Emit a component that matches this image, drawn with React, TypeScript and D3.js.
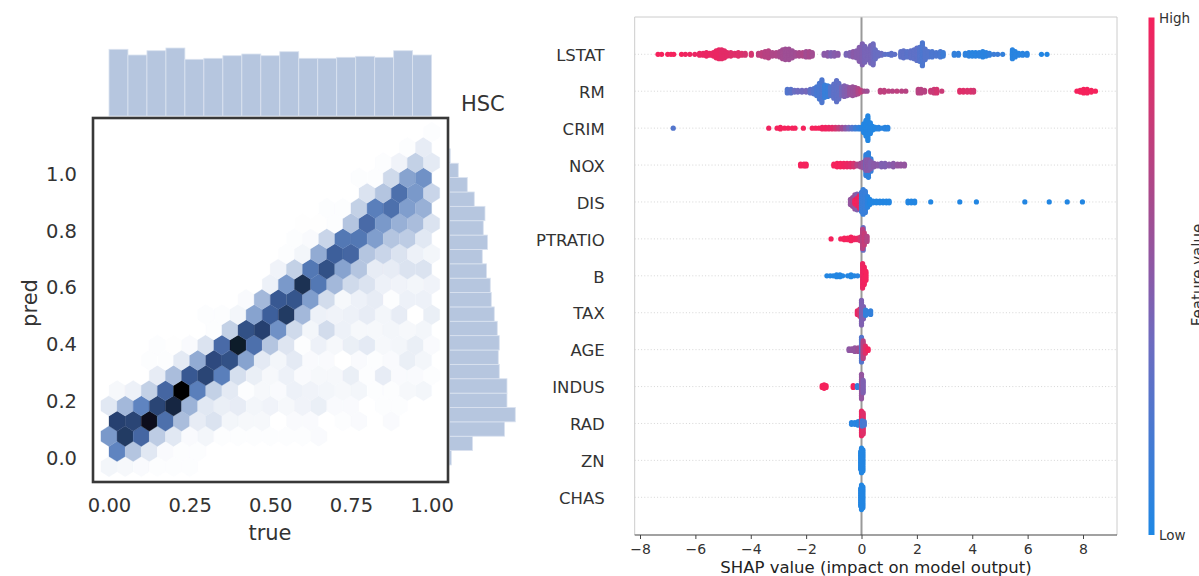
import { useEffect, useRef } from "react";
import * as d3 from "d3";

type Col = [number, number, number]; // shap value, dots stacked, feature value 0..1

// marginal histograms (counts)
const trueCounts = [66.7, 61, 65.3, 68, 56.7, 57.7, 60.3, 62, 60.3, 64.3, 57.7, 57.7, 58.7, 59.7, 58.7, 65.3, 61];
const predCounts = [2, 23.3, 55.3, 66, 57.7, 57.7, 50, 49, 50, 48, 45, 42, 41, 37.3, 33, 38.3, 34, 35.7, 25, 18, 9, 1];

// hexbin density, one list per row from the bottom; hexFirstCol is where a row's list starts
const hexFirstCol = [0, 0, 0, 0, 0, 0, 3, 2, 3, 6, 6, 8, 10, 10, 11, 11, 12, 13, 16, 15, 17, 18, 20];
const hexRows = [
  [4, 3, 2, 1, 1, 1],
  [50, 25, 10, 2, 1, 1],
  [42, 82, 62, 22, 10, 2, 4, 1, 1, 1, 1, 1, 1, 2],
  [80, 78, 95, 58, 28, 8, 12, 4, 3, 3, 0, 2, 2, 0, 1, 2, 0, 2],
  [10, 30, 50, 78, 88, 32, 10, 7, 8, 4, 5, 3, 5, 7, 2, 2, 0, 1, 1],
  [3, 6, 20, 62, 100, 52, 20, 9, 1, 3, 2, 6, 5, 4, 3, 4, 1, 1, 3, 4],
  [8, 28, 68, 78, 52, 14, 7, 3, 6, 2, 3, 3, 7, 1, 8, 2, 2, 1],
  [1, 1, 9, 35, 75, 72, 38, 9, 4, 9, 2, 2, 0, 2, 1, 2, 7, 4],
  [1, 0.5, 2, 12, 60, 92, 58, 25, 11, 1, 6, 3, 7, 9, 3, 4, 7, 2],
  [1, 20, 72, 80, 45, 16, 4, 15, 6, 3, 3, 4, 3, 4],
  [1, 1, 4, 38, 65, 82, 30, 6, 5, 6, 8, 4, 8, 0, 7],
  [2, 30, 68, 70, 40, 15, 3, 6, 8, 1, 6, 6],
  [6, 42, 85, 55, 30, 16, 12, 6, 5, 4, 5],
  [5, 20, 55, 72, 38, 25, 8, 8, 12, 12],
  [1, 4, 35, 65, 62, 25, 18, 12, 6, 4],
  [1, 2, 18, 55, 55, 40, 25, 22, 10],
  [0.5, 0.5, 1, 25, 60, 42, 33, 28, 12],
  [1, 1, 20, 52, 58, 40, 33],
  [12, 25, 58, 42, 18],
  [1, 1, 16, 38, 45],
  [1, 5, 20, 9],
  [1, 8],
  [1],
];

const xTicks = [0, 0.25, 0.5, 0.75, 1];
const yTicks = [0, 0.2, 0.4, 0.6, 0.8, 1];
const shapTicks = [-8, -6, -4, -2, 0, 2, 4, 6, 8];

const features = ["LSTAT", "RM", "CRIM", "NOX", "DIS", "PTRATIO", "B", "TAX", "AGE", "INDUS", "RAD", "ZN", "CHAS"];

const lstat: Col[] = [
  [-7.35, 1, 1], [-7.22, 1, 1], [-7.0, 1, 1], [-6.88, 1, 1], [-6.78, 1, 1], [-6.5, 1, 1], [-6.36, 1, 0.97], [-6.2, 1, 0.97],
  [-6.02, 1, 0.95], [-5.85, 2, 0.95], [-5.72, 2, 0.95], [-5.6, 3, 0.95], [-5.48, 2, 0.95], [-5.35, 3, 0.95], [-5.25, 5, 0.95],
  [-5.15, 6, 0.95], [-5.05, 6, 0.92], [-4.95, 5, 0.92], [-4.85, 3, 0.92], [-4.72, 3, 0.9], [-4.58, 2, 0.9], [-4.45, 3, 0.9],
  [-4.32, 2, 0.88], [-4.2, 2, 0.85], [-3.98, 2, 0.85], [-3.72, 2, 0.75], [-3.6, 3, 0.75], [-3.48, 4, 0.72], [-3.36, 5, 0.72],
  [-3.22, 3, 0.68], [-3.08, 3, 0.68], [-2.95, 4, 0.65], [-2.85, 6, 0.62], [-2.75, 7, 0.6], [-2.62, 7, 0.6], [-2.5, 5, 0.6],
  [-2.38, 3, 0.62], [-2.25, 3, 0.65], [-2.12, 3, 0.68], [-2.0, 4, 0.62], [-1.88, 4, 0.65], [-1.78, 3, 0.62],
  [-1.35, 2, 0.5], [-1.22, 3, 0.5], [-1.1, 3, 0.45], [-0.98, 3, 0.48], [-0.85, 2, 0.5],
  [-0.55, 2, 0.42], [-0.42, 3, 0.45], [-0.3, 4, 0.5], [-0.18, 5, 0.48], [-0.08, 9, 0.48], [0.03, 13, 0.45], [0.12, 10, 0.42],
  [0.22, 7, 0.42], [0.33, 11, 0.42], [0.42, 13, 0.38], [0.5, 6, 0.35], [0.6, 3, 0.35], [0.72, 2, 0.35], [0.85, 1, 0.3],
  [0.97, 1, 0.28], [1.08, 2, 0.3], [1.2, 1, 0.3],
  [1.42, 4, 0.3], [1.52, 5, 0.3], [1.65, 4, 0.28], [1.78, 5, 0.3], [1.9, 6, 0.3], [2.0, 8, 0.3], [2.1, 9, 0.26], [2.2, 14, 0.22],
  [2.3, 7, 0.25], [2.42, 4, 0.25], [2.55, 4, 0.22], [2.7, 3, 0.22], [2.85, 4, 0.2], [2.95, 3, 0.15],
  [3.35, 2, 0.1], [3.5, 2, 0.1], [3.75, 2, 0.08], [3.88, 3, 0.08], [4.0, 3, 0.05], [4.12, 3, 0.05], [4.25, 3, 0.06], [4.38, 4, 0.06],
  [4.5, 3, 0.06], [4.62, 2, 0.1], [4.78, 1, 0.15], [4.92, 1, 0.15], [5.1, 1, 0.1], [5.45, 6, 0.05], [5.55, 4, 0.05], [5.68, 2, 0.05],
  [5.82, 2, 0.05], [5.98, 2, 0.05], [6.5, 1, 0.02], [6.7, 1, 0.02],
];
const rm: Col[] = [
  [-2.68, 3, 0.25], [-2.55, 3, 0.28], [-2.42, 2, 0.35], [-2.3, 2, 0.38], [-2.15, 2, 0.38], [-2.0, 2, 0.4], [-1.85, 3, 0.3],
  [-1.72, 4, 0.25], [-1.62, 6, 0.2], [-1.52, 10, 0.2], [-1.43, 14, 0.22], [-1.33, 8, 0.12], [-1.22, 7, 0.12], [-1.12, 6, 0.25],
  [-1.0, 9, 0.3], [-0.9, 13, 0.3], [-0.82, 10, 0.32], [-0.72, 6, 0.4], [-0.62, 7, 0.45], [-0.52, 6, 0.48], [-0.42, 5, 0.55],
  [-0.32, 6, 0.58], [-0.22, 5, 0.6], [-0.12, 4, 0.68], [-0.02, 2, 0.75], [0.1, 1, 0.65], [0.2, 1, 0.6],
  [0.68, 2, 0.75], [0.82, 2, 0.75], [0.98, 1, 0.75], [1.12, 1, 0.72], [1.28, 1, 0.75], [1.45, 1, 0.72], [1.6, 1, 0.72],
  [2.05, 3, 0.72], [2.15, 3, 0.72], [2.28, 2, 0.72], [2.5, 2, 0.8], [2.62, 3, 0.8], [2.72, 3, 0.85], [2.9, 1, 0.8],
  [3.55, 2, 0.9], [3.68, 2, 0.9], [3.82, 2, 0.88], [3.95, 2, 0.88], [4.05, 2, 0.85],
  [7.78, 1, 1], [7.9, 2, 1], [8.02, 3, 1], [8.15, 3, 1], [8.3, 2, 1], [8.45, 1, 1],
];
const crim: Col[] = [
  [-6.8, 1, 0.25], [-3.35, 1, 0.98], [-3.05, 1, 1], [-2.93, 2, 1], [-2.78, 1, 1], [-2.65, 1, 1], [-2.5, 1, 1], [-2.4, 1, 1], [-2.1, 1, 1],
  [-1.78, 1, 1], [-1.66, 1, 1], [-1.54, 1, 1], [-1.42, 2, 0.98], [-1.3, 2, 0.98], [-1.18, 2, 0.95], [-1.06, 2, 0.92], [-0.94, 2, 0.85],
  [-0.82, 2, 0.75], [-0.7, 2, 0.62], [-0.58, 2, 0.5], [-0.46, 2, 0.4], [-0.34, 2, 0.25], [-0.22, 2, 0.15], [-0.1, 2, 0.1], [0, 2, 0.06],
  [0.08, 6, 0.03], [0.16, 10, 0.03], [0.23, 15, 0.03], [0.32, 7, 0.03], [0.4, 3, 0.03], [0.5, 2, 0.03], [0.62, 2, 0.05], [0.75, 1, 0.05],
  [0.85, 2, 0.05], [0.95, 2, 0.05],
];
const nox: Col[] = [
  [-2.2, 2, 1], [-2.08, 2, 1], [-2.0, 2, 1], [-1.0, 2, 1], [-0.88, 3, 1], [-0.76, 3, 1], [-0.64, 3, 0.98], [-0.52, 3, 0.95], [-0.4, 3, 0.92],
  [-0.28, 3, 0.85], [-0.16, 2, 0.7], [-0.04, 3, 0.62], [0.06, 4, 0.55], [0.16, 13, 0.1], [0.25, 15, 0.08], [0.34, 8, 0.12],
  [0.16, 7, 0.5], [0.25, 7, 0.5], [0.34, 5, 0.48], [0.45, 3, 0.5], [0.58, 2, 0.5], [0.72, 3, 0.45], [0.85, 3, 0.45], [1.0, 2, 0.48],
  [1.15, 3, 0.5], [1.3, 2, 0.55], [1.42, 2, 0.55], [1.55, 2, 0.55],
];
const dis: Col[] = [
  [-0.4, 4, 0.55], [-0.32, 6, 0.6], [-0.24, 9, 0.55], [-0.16, 10, 0.45], [-0.24, 3, 1], [-0.16, 5, 1], [-0.08, 8, 0.95],
  [0, 12, 0.15], [0.06, 15, 0.12], [0.14, 13, 0.12], [0.22, 7, 0.06], [0.3, 4, 0.03], [0.42, 2, 0.03], [0.54, 2, 0.03], [0.66, 2, 0.03],
  [0.78, 2, 0.03], [0.9, 2, 0.03], [1.0, 2, 0.03], [1.68, 2, 0.03], [1.8, 2, 0.03], [1.92, 2, 0.03], [2.5, 1, 0.03], [3.55, 1, 0.03],
  [4.15, 1, 0.03], [5.9, 1, 0.03], [6.78, 1, 0.03], [7.43, 1, 0.03], [7.98, 1, 0.03],
];
const ptratio: Col[] = [
  [-1.1, 1, 1], [-0.75, 1, 1], [-0.62, 2, 1], [-0.5, 2, 1], [-0.38, 3, 1], [-0.26, 2, 0.98], [-0.14, 2, 0.95], [-0.04, 3, 0.85],
  [0.06, 14, 0.35], [0.04, 12, 0.72], [0.1, 8, 0.78], [0.2, 4, 0.7],
];
const b: Col[] = [
  [-1.25, 1, 0.03], [-1.13, 1, 0.03], [-1.02, 1, 0.03], [-0.9, 2, 0.03], [-0.78, 2, 0.03], [-0.68, 1, 0.03], [-0.5, 1, 0.03], [-0.38, 2, 0.03],
  [-0.26, 1, 0.03], [-0.14, 1, 0.05], [0.04, 15, 0.95], [0.1, 11, 0.98], [0.16, 6, 1],
];
const tax: Col[] = [
  [-0.15, 3, 0.95], [-0.06, 5, 0.85], [0, 15, 0.45], [0.07, 8, 0.45], [0.15, 4, 0.1], [0.24, 2, 0.1], [0.33, 3, 0.1],
];
const age: Col[] = [
  [-0.45, 2, 0.52], [-0.35, 2, 0.55], [-0.24, 3, 0.55], [-0.12, 3, 0.6], [0, 15, 0.25], [0.06, 11, 0.72], [0.14, 5, 0.9], [0.24, 2, 1],
];
const indus: Col[] = [
  [-1.42, 2, 1], [-1.35, 3, 1], [-1.28, 2, 1], [-0.3, 2, 1], [-0.15, 2, 0.1], [0, 15, 0.55], [0.06, 8, 0.45],
];
const rad: Col[] = [
  [-0.36, 2, 0.05], [-0.24, 2, 0.05], [-0.12, 3, 0.05], [0, 15, 0.95], [0.06, 13, 0.9], [0.02, 4, 0.18], [0.1, 3, 0.2],
];
const zn: Col[] = [[0, 15, 0.03], [0.05, 13, 0.03], [-0.03, 11, 0.03]];
const chas: Col[] = [[0, 15, 0.03], [0.05, 13, 0.03], [-0.03, 11, 0.03]];
const swarmRows = [lstat, rm, crim, nox, dis, ptratio, b, tax, age, indus, rad, zn, chas];

const FONT = "DejaVu Sans";

function App() {
  const ref = useRef<SVGSVGElement>(null);

  useEffect(() => {
    const svg = d3.select(ref.current);
    svg.selectAll("*").remove();
    svg.style("font-family", FONT);

    const defs = svg.append("defs");
    defs.append("filter").attr("id", "soft").append("feGaussianBlur").attr("stdDeviation", 0.45);

    // ---- left: hexbin with marginals
    const frame = { left: 93, right: 448, top: 118, bottom: 482 };
    const x = d3.scaleLinear().domain([0, 1]).range([109, 431.6]);
    const y = d3.scaleLinear().domain([0, 1]).range([457, 173]);
    const hexColor = d3
      .scaleLinear<string>()
      .domain([0, 25, 50, 65, 80, 100])
      .range(["#ffffff", "#b4c5e0", "#5e84c0", "#3e5f9b", "#27406f", "#000000"]);

    const dx = 0.025;
    const rowStep = 15.2 / 284;
    const rowBase = -0.034;
    const hexLine = d3.line<[number, number]>().x((d) => x(d[0])).y((d) => y(d[1]));

    const hexes = svg.append("g").attr("filter", "url(#soft)");
    hexRows.forEach((row, r) => {
      row.forEach((v, i) => {
        const cx = (hexFirstCol[r] + i) * 0.05 + (r % 2 ? dx : 0);
        const cy = rowBase + r * rowStep;
        const h = rowStep / 1.5;
        const pts: [number, number][] = [
          [cx, cy + h],
          [cx + dx, cy + h / 2],
          [cx + dx, cy - h / 2],
          [cx, cy - h],
          [cx - dx, cy - h / 2],
          [cx - dx, cy + h / 2],
        ];
        hexes
          .append("path")
          .attr("d", hexLine(pts) + "Z")
          .attr("fill", hexColor(v))
          .attr("stroke", hexColor(v))
          .attr("stroke-width", 0.3);
      });
    });

    const countTop = d3.scaleLinear().domain([0, 70]).range([116, 46]);
    const xBin = d3.scaleBand<number>().domain(d3.range(trueCounts.length)).range([x(0), x(1)]);
    svg
      .append("g")
      .selectAll("rect")
      .data(trueCounts)
      .join("rect")
      .attr("x", (_, i) => xBin(i)!)
      .attr("width", xBin.bandwidth())
      .attr("y", (d) => countTop(d))
      .attr("height", (d) => countTop(0) - countTop(d))
      .attr("fill", "#b6c6df")
      .attr("stroke", "#dbe3f0")
      .attr("stroke-width", 0.8);

    const predLo = -0.028;
    const predHi = 1.085;
    const predStep = (predHi - predLo) / predCounts.length;
    const countRight = d3.scaleLinear().domain([0, 70]).range([449.3, 519.3]);
    svg
      .append("g")
      .selectAll("rect")
      .data(predCounts)
      .join("rect")
      .attr("x", countRight(0))
      .attr("width", (d) => countRight(d) - countRight(0))
      .attr("y", (_, i) => y(predLo + (i + 1) * predStep))
      .attr("height", y(0) - y(predStep))
      .attr("fill", "#b6c6df")
      .attr("stroke", "#dbe3f0")
      .attr("stroke-width", 0.8);

    const gx = svg
      .append("g")
      .attr("transform", `translate(0,${frame.bottom})`)
      .call(d3.axisBottom(x).tickValues(xTicks).tickFormat(d3.format(".2f")).tickSize(0).tickPadding(16));
    const gy = svg
      .append("g")
      .attr("transform", `translate(${frame.left},1)`)
      .call(d3.axisLeft(y).tickValues(yTicks).tickFormat(d3.format(".1f")).tickSize(0).tickPadding(16));
    [gx, gy].forEach((g) => {
      g.select(".domain").remove();
      g.selectAll("text").attr("font-size", 19.5).attr("font-family", FONT).attr("fill", "#333");
    });

    svg
      .append("rect")
      .attr("x", frame.left)
      .attr("y", frame.top)
      .attr("width", frame.right - frame.left)
      .attr("height", frame.bottom - frame.top)
      .attr("fill", "none")
      .attr("stroke", "#383838")
      .attr("stroke-width", 2.6);

    svg.append("text").attr("x", 270).attr("y", 540).attr("text-anchor", "middle").attr("font-size", 21).attr("fill", "#333").text("true");
    svg
      .append("text")
      .attr("transform", "translate(37,303) rotate(-90)")
      .attr("text-anchor", "middle")
      .attr("font-size", 21)
      .attr("fill", "#333")
      .text("pred");
    svg.append("text").attr("x", 461).attr("y", 111).attr("font-size", 21).attr("fill", "#333").text("HSC");

    // ---- right: SHAP summary
    const box = { left: 634.7, right: 1117, top: 17, bottom: 535 };
    const sx = d3.scaleLinear().domain([-8, 8]).range([640, 1083]);
    const sy = d3.scalePoint<string>().domain(features).range([54.3, 497.3]);
    const tone = d3
      .scaleLinear<string>()
      .domain([0, 0.37, 0.5, 0.65, 0.85, 1])
      .range(["#1e88e5", "#6d6cc0", "#8a5aa8", "#a84a8c", "#d43570", "#f5215c"]);

    svg
      .append("g")
      .selectAll("line")
      .data(features)
      .join("line")
      .attr("x1", box.left)
      .attr("x2", box.right)
      .attr("y1", (d) => sy(d)!)
      .attr("y2", (d) => sy(d)!)
      .attr("stroke", "#ccc")
      .attr("stroke-width", 0.8)
      .attr("stroke-dasharray", "1,2.2");

    svg
      .append("line")
      .attr("x1", sx(0))
      .attr("x2", sx(0))
      .attr("y1", box.top)
      .attr("y2", box.bottom)
      .attr("stroke", "#999")
      .attr("stroke-width", 2);

    const stackGap = 1.75;
    const dots = svg.append("g").attr("filter", "url(#soft)");
    swarmRows.forEach((cols, r) => {
      const cy = sy(features[r])!;
      cols.forEach(([v, n, t]) => {
        d3.range(n).forEach((k) => {
          dots
            .append("circle")
            .attr("cx", sx(v))
            .attr("cy", cy + (k - (n - 1) / 2) * stackGap)
            .attr("r", 2.6)
            .attr("fill", tone(t));
        });
      });
    });

    const spines = svg.append("g").attr("stroke", "#ccc").attr("stroke-width", 1).attr("fill", "none");
    spines.append("path").attr("d", `M${box.left},${box.bottom}V${box.top}H${box.right}V${box.bottom}`);

    const gs = svg
      .append("g")
      .attr("transform", `translate(0,${box.bottom})`)
      .call(d3.axisBottom(sx).tickValues(shapTicks).tickSize(4).tickPadding(5));
    gs.select(".domain").attr("d", `M${box.left},0H${box.right}`).attr("stroke", "#444").attr("stroke-width", 1.2);
    gs.selectAll("line").attr("stroke", "#444");
    gs.selectAll("text").attr("font-size", 14).attr("font-family", FONT).attr("fill", "#333");

    const gf = svg
      .append("g")
      .attr("transform", `translate(${box.left},1)`)
      .call(d3.axisLeft(sy).tickSize(0).tickPadding(30));
    gf.select(".domain").remove();
    gf.selectAll("text").attr("font-size", 16.5).attr("font-family", FONT).attr("fill", "#333");

    svg
      .append("text")
      .attr("x", 876)
      .attr("y", 573)
      .attr("text-anchor", "middle")
      .attr("font-size", 16.5)
      .attr("fill", "#222")
      .text("SHAP value (impact on model output)");

    // colour bar
    const grad = defs
      .append("linearGradient")
      .attr("id", "featureBar")
      .attr("x1", 0)
      .attr("x2", 0)
      .attr("y1", 1)
      .attr("y2", 0);
    tone.domain().forEach((t) => {
      grad.append("stop").attr("offset", t).attr("stop-color", tone(t));
    });
    svg.append("rect").attr("x", 1148.5).attr("y", 17.5).attr("width", 6).attr("height", 517.5).attr("fill", "url(#featureBar)");
    svg.append("text").attr("x", 1159).attr("y", 22.5).attr("font-size", 13.5).attr("fill", "#333").text("High");
    svg.append("text").attr("x", 1159).attr("y", 539.5).attr("font-size", 13.5).attr("fill", "#333").text("Low");
    svg
      .append("text")
      .attr("transform", "translate(1203,275) rotate(-90)")
      .attr("text-anchor", "middle")
      .attr("font-size", 15)
      .attr("fill", "#333")
      .text("Feature value");
  }, []);

  return <svg ref={ref} width={1199} height={576} style={{ position: "absolute", left: 0, top: 0, background: "#fff" }} />;
}

export default App;
